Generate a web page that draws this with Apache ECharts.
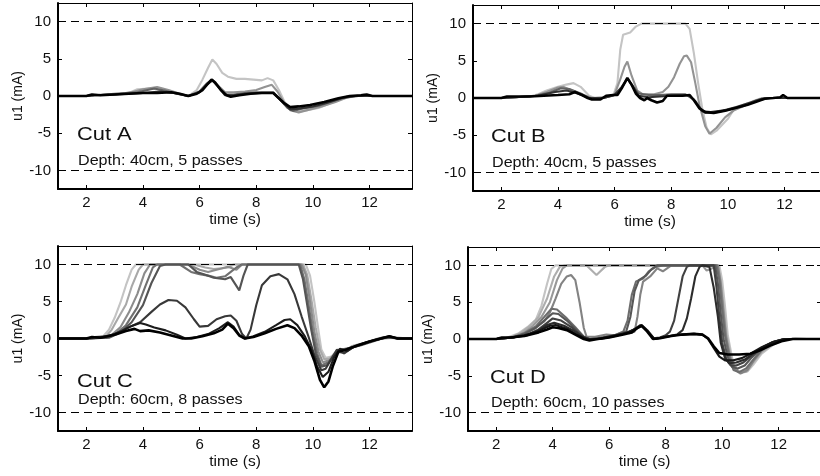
<!DOCTYPE html>
<html>
<head>
<meta charset="utf-8">
<script src="https://cdn.jsdelivr.net/npm/echarts@6.0.0/dist/echarts.min.js"></script>
<style>
  html, body { margin: 0; padding: 0; background: #fff; }
  #main { width: 820px; height: 476px; }
</style>
</head>
<body>
<div id="main"></div>
<script>
// tick values shared by all four panels
var xTicks = [2, 4, 6, 8, 10, 12];
var yTicks = [-10, -5, 0, 5, 10];
var limits = [10, -10];

// ---- Cut A : depth 40cm, 5 passes  [time (s), u1 (mA)]
var cutA1 = [[1,0],[2,0],[2.3,0.1],[3,0.2],[3.5,0.4],[3.8,0.9],[4.2,1.0],[4.5,0.9],[4.8,0.6],[5.2,0.3],[5.6,0],[5.9,0.8],[6.1,2.2],[6.3,3.8],[6.45,4.9],[6.6,4.3],[6.8,3.1],[7.0,2.6],[7.3,2.3],[7.6,2.3],[7.9,2.2],[8.2,2.1],[8.4,2.4],[8.6,2.1],[8.8,0.8],[9.0,-0.8],[9.2,-1.7],[9.5,-2.1],[9.8,-1.9],[10.2,-1.6],[10.6,-1.0],[11.0,-0.4],[11.5,0],[11.8,0.2],[12.1,0],[13.5,0]];
var cutA2 = [[1,0],[2,0],[2.3,0.1],[3,0.2],[3.6,0.5],[4.0,0.9],[4.5,1.2],[4.9,0.8],[5.3,0.3],[5.6,0],[6.0,0.6],[6.25,1.7],[6.45,2.2],[6.65,1.4],[6.9,0.5],[7.2,0.5],[7.6,0.6],[8.0,0.8],[8.3,1.2],[8.55,1.5],[8.75,0.6],[9.0,-1.0],[9.2,-1.9],[9.5,-2.2],[9.8,-1.9],[10.3,-1.4],[10.8,-0.8],[11.2,-0.2],[11.6,0],[12,0],[13.5,0]];
var cutA3 = [[1,0],[2,0],[2.3,0.1],[3,0.3],[3.8,0.5],[4.4,1.0],[4.8,0.7],[5.2,0.3],[5.6,0],[6.0,0.6],[6.25,1.6],[6.45,2.1],[6.65,1.3],[6.9,0.2],[7.2,0.2],[7.6,0.4],[8.0,0.5],[8.6,0.5],[8.85,-0.5],[9.1,-1.6],[9.3,-2.0],[9.6,-1.7],[10.2,-1.3],[10.7,-0.7],[11.2,-0.1],[11.6,0],[13.5,0]];
var cutA4 = [[1,0],[2,0],[2.3,0.1],[3,0.2],[4,0.4],[4.6,0.6],[5.1,0.4],[5.6,0],[6.0,0.5],[6.25,1.5],[6.45,2.1],[6.65,1.3],[6.9,0.1],[7.2,0.1],[7.6,0.3],[8.1,0.4],[8.6,0.4],[8.9,-0.7],[9.2,-1.8],[9.5,-1.7],[10.0,-1.4],[10.5,-0.9],[11.0,-0.3],[11.5,0],[13.5,0]];
var cutA5 = [[1,0],[2,0],[2.2,0.2],[2.5,0.1],[3,0.2],[3.5,0.3],[4,0.4],[4.5,0.4],[5.0,0.5],[5.3,0.3],[5.6,0],[5.9,0.3],[6.1,0.8],[6.3,1.7],[6.42,2.2],[6.55,1.8],[6.75,0.8],[6.95,0.1],[7.1,-0.1],[7.4,0.1],[7.8,0.3],[8.2,0.4],[8.6,0.4],[8.8,-0.3],[9.0,-1.0],[9.2,-1.5],[9.5,-1.4],[9.9,-1.2],[10.4,-0.8],[10.9,-0.3],[11.3,0],[11.7,0.1],[11.9,0.2],[12.1,0],[13.5,0]];

// ---- Cut B : depth 40cm, 5 passes
var cutB1 = [[1,0],[2,0],[2.5,0.1],[3.0,0.2],[3.3,0.5],[3.6,1.0],[4.0,1.5],[4.3,1.8],[4.55,2.0],[4.8,1.5],[5.1,0.3],[5.3,0],[5.7,0.1],[5.95,0.3],[6.1,2.0],[6.2,6.5],[6.3,8.5],[6.55,8.8],[6.75,9.6],[6.95,10],[8.5,10],[8.65,9.3],[8.8,6.0],[8.95,2.0],[9.1,-1.5],[9.25,-4.0],[9.4,-4.9],[9.6,-4.4],[9.8,-3.6],[10.0,-2.8],[10.2,-1.6],[10.5,-1.0],[10.9,-0.4],[11.2,0],[13.5,0]];
var cutB2 = [[1,0],[2,0],[2.5,0.1],[3.2,0.3],[3.6,0.8],[4.0,1.4],[4.2,1.5],[4.5,1.0],[4.9,0.4],[5.2,0],[5.7,0.1],[6.0,0.5],[6.2,2.5],[6.35,4.2],[6.45,4.9],[6.6,3.0],[6.8,1.0],[7.0,0.5],[7.4,0.5],[7.7,0.8],[7.9,1.5],[8.1,2.8],[8.3,4.6],[8.45,5.6],[8.55,5.7],[8.7,4.8],[8.85,2.0],[9.0,-1.0],[9.2,-3.8],[9.35,-4.8],[9.6,-4.0],[9.9,-2.6],[10.2,-1.7],[10.6,-1.0],[11.0,-0.3],[11.3,0],[13.5,0]];
var cutB3 = [[1,0],[2,0],[2.5,0.1],[3.2,0.3],[3.7,0.7],[4.1,1.3],[4.4,1.2],[4.8,0.6],[5.1,0],[5.6,0],[6.0,0.4],[6.25,1.5],[6.45,2.6],[6.65,1.6],[6.85,0.6],[7.2,0.4],[7.6,0.4],[8.0,0.5],[8.5,0.5],[8.8,-0.2],[9.0,-1.4],[9.2,-2.0],[9.6,-1.9],[10.0,-1.6],[10.5,-1.1],[11.0,-0.4],[11.4,0],[13.5,0]];
var cutB4 = [[1,0],[2,0],[2.5,0.1],[3.3,0.3],[3.9,0.8],[4.3,1.0],[4.7,0.6],[5.1,0],[5.6,0],[6.0,0.4],[6.25,1.4],[6.45,2.6],[6.65,1.5],[6.85,0.3],[7.2,0.1],[7.6,0.2],[8.0,0.3],[8.6,0.4],[8.85,-0.4],[9.1,-1.8],[9.4,-1.9],[9.8,-1.7],[10.3,-1.2],[10.8,-0.6],[11.2,-0.1],[11.5,0],[13.5,0]];
var cutB5 = [[1,0],[2,0],[2.2,0.2],[3.0,0.2],[3.5,0.3],[4.0,0.4],[4.4,0.5],[4.6,0.8],[4.85,0.4],[5.05,0],[5.2,-0.2],[5.5,-0.2],[5.7,0.3],[5.95,0.4],[6.1,0.4],[6.25,1.3],[6.45,2.7],[6.6,1.8],[6.75,0.6],[6.9,0],[7.05,-0.3],[7.15,0],[7.3,-0.3],[7.5,-0.6],[7.7,-0.4],[7.85,0.3],[8.1,0.3],[8.4,0.3],[8.65,0.4],[8.8,-0.3],[9.0,-1.4],[9.2,-1.9],[9.5,-2.0],[9.9,-1.7],[10.3,-1.3],[10.7,-0.9],[11.0,-0.5],[11.3,-0.1],[11.6,0],[11.85,0.1],[11.95,0.4],[12.1,0],[13.5,0]];

// ---- Cut C : depth 60cm, 8 passes
var cutC1 = [[1,0],[2,0],[2.4,0.1],[2.6,0.3],[2.8,1.2],[3.0,2.8],[3.2,4.8],[3.4,7.2],[3.6,9.3],[3.75,10],[9.75,10],[9.9,8.5],[10.05,5.0],[10.2,1.0],[10.3,-1.5],[10.45,-2.6],[10.7,-2.4],[10.9,-1.6],[11.1,-1.7],[11.4,-1.0],[11.8,-0.6],[12.2,-0.2],[12.6,0.1],[13,0],[13.5,0]];
var cutC2 = [[1,0],[2,0],[2.5,0.1],[2.7,0.3],[2.9,1.2],[3.1,2.6],[3.4,4.6],[3.6,7.0],[3.85,9.3],[4.0,10],[5.8,10],[6.2,9.6],[6.5,9.4],[6.8,9.5],[7.0,9.6],[7.2,10],[9.65,10],[9.8,8.6],[9.95,5.2],[10.1,1.5],[10.25,-1.5],[10.4,-2.8],[10.6,-2.7],[10.85,-1.6],[11.1,-1.8],[11.4,-1.0],[11.9,-0.5],[12.3,0],[12.7,0.3],[13,0],[13.5,0]];
var cutC3 = [[1,0],[2,0],[2.6,0.1],[2.9,0.5],[3.2,1.5],[3.5,3.5],[3.8,6.0],[4.05,8.8],[4.25,10],[5.6,10],[6.0,9.3],[6.3,9.0],[6.7,9.4],[7.0,9.7],[7.3,9.3],[7.5,10],[9.6,10],[9.75,8.6],[9.9,5.0],[10.05,1.0],[10.2,-1.8],[10.35,-3.2],[10.6,-2.9],[10.85,-1.8],[11.1,-2.0],[11.5,-1.0],[12,-0.4],[12.5,0.2],[13,0],[13.5,0]];
var cutC4 = [[1,0],[2,0],[2.7,0.1],[3.1,0.8],[3.4,1.8],[3.8,4.2],[4.1,7.2],[4.35,9.6],[4.5,10],[5.3,10],[5.7,9.0],[6.0,8.7],[6.3,8.5],[6.6,8.2],[6.9,8.4],[7.1,9.0],[7.3,9.6],[7.5,10],[9.55,10],[9.7,8.0],[9.85,4.5],[10.0,0.8],[10.15,-2.0],[10.3,-3.6],[10.55,-3.2],[10.8,-2.0],[11.05,-1.6],[11.4,-1.2],[11.9,-0.5],[12.4,0],[13,0.1],[13.5,0]];
var cutC5 = [[1,0],[2,0],[2.8,0.1],[3.2,0.8],[3.6,2.2],[4.0,4.5],[4.3,7.5],[4.6,9.8],[4.8,10],[5.6,10],[5.9,9.0],[6.2,8.6],[6.5,8.2],[6.9,8.0],[7.1,8.3],[7.4,6.5],[7.55,8.5],[7.7,10],[9.5,10],[9.65,8.0],[9.8,4.5],[9.95,1.0],[10.1,-2.0],[10.3,-3.8],[10.5,-3.6],[10.75,-2.2],[11.0,-1.5],[11.3,-1.3],[11.7,-0.9],[12.2,-0.3],[12.6,0.2],[13,0],[13.5,0]];
var cutC6 = [[1,0],[2,0],[2.5,0.1],[3.0,0.6],[3.5,1.5],[3.9,2.2],[4.3,3.6],[4.6,4.6],[4.9,5.2],[5.2,5.1],[5.5,4.2],[5.8,2.6],[6.0,1.6],[6.3,1.7],[6.6,2.6],[6.9,3.0],[7.1,3.1],[7.3,2.4],[7.5,0.6],[7.65,0],[7.8,1.2],[8.0,4.5],[8.2,7.2],[8.5,8.4],[8.8,8.7],[9.1,8.0],[9.35,6.0],[9.6,3.0],[9.85,0.2],[10.05,-2.2],[10.3,-4.3],[10.45,-4.1],[10.65,-2.8],[10.85,-1.5],[11.1,-2.0],[11.4,-1.2],[11.8,-0.7],[12.2,-0.2],[12.7,0.2],[13,0],[13.5,0]];
var cutC7 = [[1,0],[2,0],[2.3,0.2],[2.8,0.3],[3.2,0.9],[3.6,1.7],[3.9,2.1],[4.1,1.9],[4.4,1.5],[4.8,1.1],[5.2,0.5],[5.5,0],[5.9,0.2],[6.3,0.6],[6.7,1.4],[7.0,2.2],[7.2,1.6],[7.4,0.5],[7.6,0],[7.9,0.3],[8.3,0.9],[8.7,1.8],[9.0,2.5],[9.2,2.6],[9.45,1.8],[9.7,0.4],[9.95,-1.5],[10.15,-3.8],[10.35,-5.2],[10.55,-4.5],[10.75,-2.5],[10.95,-1.4],[11.2,-1.7],[11.5,-1.0],[11.9,-0.5],[12.3,-0.1],[12.7,0.3],[13,0],[13.5,0]];
var cutC8 = [[1,0],[2,0],[2.2,0.2],[2.5,0.1],[3.0,0.5],[3.4,1.0],[3.7,1.3],[3.9,1.0],[4.2,1.1],[4.6,0.8],[5.0,0.4],[5.4,0],[5.7,0],[6.1,0.3],[6.5,0.7],[6.8,1.2],[7.0,2.0],[7.2,1.4],[7.4,0.4],[7.6,0],[7.9,0.2],[8.3,0.7],[8.7,1.3],[9.1,1.8],[9.35,1.4],[9.6,0.4],[9.85,-1.0],[10.05,-3.0],[10.25,-5.6],[10.4,-6.6],[10.55,-5.8],[10.7,-3.8],[10.9,-1.8],[11.1,-1.6],[11.3,-1.3],[11.6,-0.9],[12,-0.4],[12.4,0],[12.7,0.3],[13,0],[13.5,0]];

// ---- Cut D : depth 60cm, 10 passes
var cutD1 = [[1,0],[2,0],[2.4,0.2],[2.8,0.8],[3.1,1.6],[3.4,2.6],[3.6,4.5],[3.8,7.5],[3.95,9.5],[4.1,10],[9.9,10],[10.0,8.0],[10.1,4.5],[10.2,0.5],[10.35,-2.5],[10.5,-4.2],[10.7,-4.6],[10.9,-4.4],[11.1,-3.5],[11.4,-2.0],[11.8,-0.8],[12.2,-0.1],[12.6,0.1],[13,0],[13.5,0]];
var cutD2 = [[1,0],[2,0],[2.5,0.2],[2.9,0.9],[3.2,1.8],[3.5,3.0],[3.8,5.5],[4.05,8.5],[4.25,9.8],[4.4,10],[5.2,10],[5.55,8.7],[5.85,9.8],[6.0,10],[9.85,10],[9.95,8.0],[10.05,4.5],[10.15,0.8],[10.3,-2.2],[10.45,-4.0],[10.65,-4.6],[10.9,-4.3],[11.1,-3.2],[11.4,-1.8],[11.8,-0.7],[12.2,0],[13.5,0]];
var cutD3 = [[1,0],[2,0],[2.5,0.2],[3.0,0.9],[3.3,1.8],[3.6,3.0],[3.9,5.0],[4.15,8.0],[4.35,9.6],[4.5,10],[9.3,10],[9.45,9.3],[9.6,9.5],[9.8,10],[9.9,8.5],[10.0,5.0],[10.1,1.0],[10.25,-2.0],[10.4,-3.8],[10.6,-4.5],[10.85,-4.4],[11.1,-3.0],[11.4,-1.6],[11.8,-0.6],[12.2,0],[13.5,0]];
var cutD4 = [[1,0],[2,0],[2.6,0.2],[3.0,0.8],[3.4,1.6],[3.7,2.4],[3.9,3.6],[4.1,5.5],[4.3,7.5],[4.5,8.5],[4.65,8.7],[4.8,8.0],[4.95,5.0],[5.1,1.5],[5.2,0.3],[5.5,0.3],[5.9,0.6],[6.2,0.5],[6.5,1.0],[6.7,0.8],[6.9,1.0],[7.0,3.0],[7.1,6.0],[7.2,7.8],[7.45,8.5],[7.7,9.6],[7.9,9.2],[8.2,10],[9.85,10],[9.95,7.5],[10.05,3.5],[10.15,0],[10.3,-2.8],[10.45,-4.2],[10.65,-4.7],[10.9,-4.2],[11.1,-3.0],[11.4,-1.5],[11.8,-0.5],[12.2,0],[13.5,0]];
var cutD5 = [[1,0],[2,0],[2.6,0.2],[3.0,0.8],[3.4,1.7],[3.7,3.0],[3.95,4.1],[4.15,4.0],[4.5,2.8],[4.8,1.6],[5.1,0.3],[5.3,0],[5.7,0.2],[6.2,0.5],[6.5,1.0],[6.65,2.5],[6.8,6.0],[6.95,7.8],[7.2,8.2],[7.4,9.2],[7.65,9.8],[7.9,10],[9.8,10],[9.9,8.0],[10.0,4.0],[10.1,0.5],[10.25,-2.5],[10.4,-4.2],[10.6,-4.5],[10.85,-4.0],[11.1,-2.8],[11.4,-1.5],[11.8,-0.5],[12.2,0],[13.5,0]];
var cutD6 = [[1,0],[2,0],[2.6,0.2],[3.0,0.7],[3.4,1.5],[3.7,2.5],[4.0,3.5],[4.2,3.4],[4.5,2.5],[4.8,1.4],[5.1,0.3],[5.3,0],[5.8,0.2],[6.3,0.6],[6.6,1.0],[6.75,3.0],[6.9,6.5],[7.05,8.0],[7.3,8.6],[7.5,9.5],[7.7,10],[9.75,10],[9.85,7.5],[9.95,3.5],[10.05,0],[10.2,-2.5],[10.35,-3.8],[10.55,-4.0],[10.8,-3.6],[11.05,-2.5],[11.4,-1.3],[11.8,-0.4],[12.2,0],[13.5,0]];
var cutD7 = [[1,0],[2,0],[2.6,0.2],[3.1,0.6],[3.5,1.3],[3.8,2.2],[4.0,2.8],[4.3,2.5],[4.7,1.5],[5.0,0.5],[5.25,0],[5.6,0],[6.0,0.3],[6.5,0.7],[6.9,1.3],[7.1,1.9],[7.3,1.3],[7.55,0.1],[7.8,0.2],[8.0,0.5],[8.15,1.0],[8.3,2.5],[8.45,5.5],[8.6,8.5],[8.75,9.8],[8.85,10],[9.7,10],[9.8,7.0],[9.9,3.0],[10.0,-0.5],[10.15,-2.8],[10.3,-3.6],[10.5,-3.6],[10.75,-3.2],[11.0,-2.4],[11.4,-1.2],[11.8,-0.4],[12.2,0],[13.5,0]];
var cutD8 = [[1,0],[2,0],[2.6,0.2],[3.1,0.5],[3.5,1.2],[3.8,1.9],[4.05,2.2],[4.4,1.8],[4.8,1.0],[5.1,0.2],[5.3,0],[5.7,0],[6.2,0.4],[6.7,0.9],[7.0,1.6],[7.15,1.9],[7.35,1.2],[7.6,0],[8.0,0.3],[8.4,0.6],[8.6,1.2],[8.75,2.8],[8.9,5.5],[9.05,8.5],[9.2,9.8],[9.3,10],[9.55,9.8],[9.7,7.0],[9.85,3.0],[9.95,-0.5],[10.1,-2.6],[10.25,-3.3],[10.5,-3.2],[10.8,-2.8],[11.1,-2.0],[11.5,-1.0],[11.9,-0.3],[12.3,0],[13.5,0]];
var cutD9 = [[1,0],[2,0],[2.5,0.2],[3.0,0.5],[3.5,1.1],[3.9,1.8],[4.1,1.9],[4.5,1.4],[4.9,0.5],[5.2,0],[5.6,0],[6.1,0.4],[6.6,0.8],[7.0,1.5],[7.15,1.8],[7.35,1.1],[7.6,0],[8.0,0.3],[8.5,0.6],[9.0,0.7],[9.3,0.6],[9.5,0],[9.7,-1.2],[9.9,-2.4],[10.1,-2.9],[10.4,-2.9],[10.7,-2.6],[11.0,-2.0],[11.4,-1.1],[11.8,-0.4],[12.2,0],[13.5,0]];
var cutD10 = [[1,0],[2,0],[2.2,0.2],[2.5,0.2],[3.0,0.4],[3.5,0.9],[3.8,1.3],[4.0,1.6],[4.2,1.5],[4.5,1.2],[4.8,0.6],[5.1,0],[5.3,-0.2],[5.6,0],[6.0,0.2],[6.5,0.6],[6.8,0.9],[7.0,1.5],[7.15,1.8],[7.35,1.0],[7.55,0],[7.8,0.1],[8.2,0.4],[8.6,0.6],[9.0,0.7],[9.3,0.6],[9.5,0.1],[9.7,-1.0],[9.9,-1.9],[10.2,-2.1],[10.6,-2.1],[11.0,-2.0],[11.3,-1.6],[11.7,-0.9],[12.1,-0.3],[12.5,0],[13.5,0]];

var panels = [
  { title: 'Cut A', note: 'Depth: 40cm, 5 passes', lines: [cutA1, cutA2, cutA3, cutA4, cutA5] },
  { title: 'Cut B', note: 'Depth: 40cm, 5 passes', lines: [cutB1, cutB2, cutB3, cutB4, cutB5] },
  { title: 'Cut C', note: 'Depth: 60cm, 8 passes', lines: [cutC1, cutC2, cutC3, cutC4, cutC5, cutC6, cutC7, cutC8] },
  { title: 'Cut D', note: 'Depth: 60cm, 10 passes', lines: [cutD1, cutD2, cutD3, cutD4, cutD5, cutD6, cutD7, cutD8, cutD9, cutD10] }
];

// layout (pixels)
var boxes = [
  { left: 58, top: 3, width: 354, height: 186 },
  { left: 473, top: 5, width: 354, height: 186 },
  { left: 58, top: 246, width: 354, height: 185 },
  { left: 468, top: 247, width: 353, height: 184 }
];
var textPos = [
  { x: 77, cy: 135, dy: 161 },
  { x: 491, cy: 137, dy: 163 },
  { x: 77, cy: 382, dy: 400 },
  { x: 490, cy: 378, dy: 403 }
];

var FONT = '"Liberation Sans", Arial, Helvetica, sans-serif';
// the source picture is a little stretched sideways
var STRETCH = 1.15;

// grey ramp from light to black
function shade(i, n) {
  var lo = 196, hi = 0;
  var v = n === 1 ? 0 : Math.round(lo + (hi - lo) * i / (n - 1));
  return 'rgb(' + v + ',' + v + ',' + v + ')';
}

var chart = echarts.init(document.getElementById('main'), null, { renderer: 'canvas' });

var grids = [], xAxes = [], yAxes = [], series = [], graphics = [];

panels.forEach(function (p, k) {
  var b = boxes[k];
  grids.push({ left: b.left, top: b.top, width: b.width, height: b.height, containLabel: false, outerBoundsMode: 'none' });

  var labelStyle = { color: '#111', fontSize: 15, fontFamily: FONT };
  xAxes.push({
    gridIndex: k, type: 'value', min: 1, max: 13.5, position: 'bottom',
    axisLine: { show: true, onZero: false, lineStyle: { color: '#000', width: 2 } },
    axisTick: { show: true, inside: true, length: 4, customValues: xTicks, lineStyle: { color: '#000' } },
    axisLabel: Object.assign({ margin: 6, customValues: xTicks }, labelStyle),
    splitLine: { show: false },
    name: 'time (s)', nameLocation: 'middle', nameGap: 23,
    nameTextStyle: { color: '#111', fontSize: 15.5, fontFamily: FONT }
  });
  xAxes.push({
    gridIndex: k, type: 'value', min: 1, max: 13.5, position: 'top',
    axisLine: { show: true, onZero: false, lineStyle: { color: '#000', width: 1 } },
    axisTick: { show: true, inside: true, length: 4, customValues: xTicks, lineStyle: { color: '#000' } },
    axisLabel: { show: false },
    splitLine: { show: false }
  });
  yAxes.push({
    gridIndex: k, type: 'value', min: -12.5, max: 12.5, position: 'left',
    axisLine: { show: true, onZero: false, lineStyle: { color: '#000', width: 2 } },
    axisTick: { show: true, inside: true, length: 4, customValues: yTicks, lineStyle: { color: '#000' } },
    axisLabel: Object.assign({ margin: 7, customValues: yTicks }, labelStyle),
    splitLine: { show: false },
    name: 'u1 (mA)', nameLocation: 'middle', nameGap: 33, nameRotate: 90,
    nameTextStyle: { color: '#111', fontSize: 14, fontFamily: FONT }
  });
  yAxes.push({
    gridIndex: k, type: 'value', min: -12.5, max: 12.5, position: 'right',
    axisLine: { show: true, onZero: false, lineStyle: { color: '#000', width: 1 } },
    axisTick: { show: true, inside: true, length: 4, customValues: yTicks, lineStyle: { color: '#000' } },
    axisLabel: { show: false },
    splitLine: { show: false }
  });

  var n = p.lines.length;
  p.lines.forEach(function (d, i) {
    var s = {
      type: 'line', xAxisIndex: 2 * k, yAxisIndex: 2 * k, data: d,
      showSymbol: false, symbol: 'none', silent: true, clip: true,
      lineStyle: { color: shade(i, n), width: i === n - 1 ? 2.6 : 2.1 },
      z: 2 + i
    };
    if (i === n - 1) {
      s.markLine = {
        silent: true, symbol: 'none', label: { show: false },
        lineStyle: { color: '#000', type: [8, 5], width: 1.2 },
        data: limits.map(function (v) { return { yAxis: v }; })
      };
    }
    series.push(s);
  });

  var t = textPos[k];
  graphics.push({
    type: 'text', x: t.x, y: t.cy, scaleX: STRETCH, z: 100,
    style: { text: p.title, font: '19px ' + FONT, fill: '#111', verticalAlign: 'middle', align: 'left' }
  });
  graphics.push({
    type: 'text', x: t.x + 1, y: t.dy, scaleX: STRETCH, z: 100,
    style: { text: p.note, font: '14px ' + FONT, fill: '#111', verticalAlign: 'middle', align: 'left' }
  });
});

chart.setOption({
  animation: false,
  backgroundColor: '#fff',
  grid: grids,
  xAxis: xAxes,
  yAxis: yAxes,
  series: series,
  graphic: graphics
});
</script>
</body>
</html>
